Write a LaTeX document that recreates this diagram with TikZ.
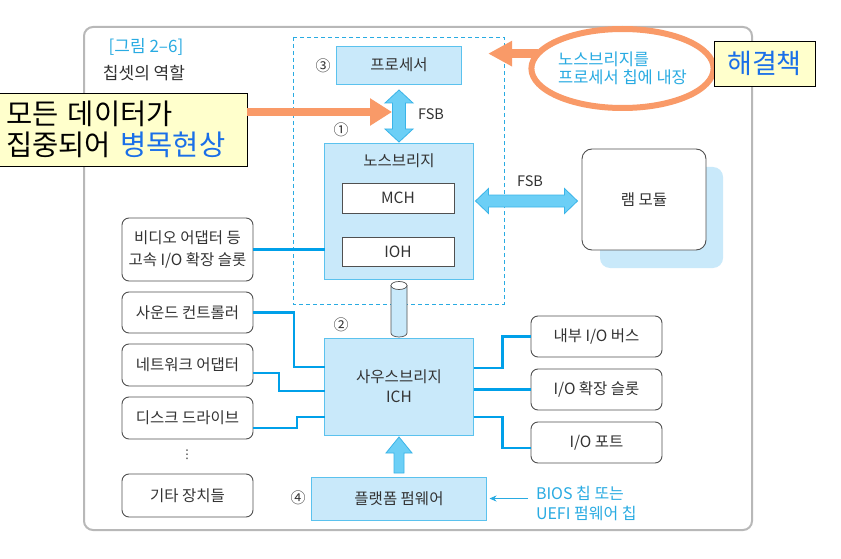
\documentclass[tikz,border=0pt]{standalone}
\usepackage{fontspec}
\setmainfont{Noto Sans CJK KR}
\newfontfamily\dotsfont{DejaVu Sans}
\definecolor{chipfill}{HTML}{C9E9FA}
\definecolor{chipline}{HTML}{5BC2EE}
\definecolor{linkblue}{HTML}{00A0E9}
\definecolor{arrowfill}{HTML}{6CCFF6}
\definecolor{arrowline}{HTML}{3AB4E8}
\definecolor{hot}{HTML}{F99A68}
\definecolor{memo}{HTML}{FFFFCC}
\definecolor{accent}{HTML}{1A6FE8}
\definecolor{caption}{HTML}{29ABE2}
\definecolor{frame}{HTML}{B8B8B8}
\definecolor{darkgrey}{HTML}{505050}
\definecolor{ink}{HTML}{333333}
\usepackage{tikz}
\usetikzlibrary{arrows.meta}
\usetikzlibrary{calc}
\usetikzlibrary{shapes.geometric}
\tikzstyle{base}=[x=1pt, y=-1pt, inner sep=0pt, outer sep=0pt, text=ink, font=\fontsize{15.5}{20}\selectfont]
\tikzstyle{chip}=[draw=chipline, fill=chipfill, line width=0.9pt]
\tikzstyle{part}=[draw=darkgrey, fill=white, line width=0.7pt, minimum width=112pt]
\tikzstyle{device}=[draw=darkgrey, fill=white, line width=0.9pt, rounded corners=7pt, minimum width=131pt, align=center]
\tikzstyle{link}=[draw=linkblue, line width=2.5pt]
\tikzstyle{fat}=[draw=arrowline, fill=arrowfill, line width=0.8pt]
\tikzstyle{memobox}=[draw=black, fill=memo, line width=0.8pt]
\tikzstyle{hotarrow}=[draw=hot, line width=8pt, -{Triangle[length=22pt,width=26pt]}]
\tikzstyle{note}=[draw=caption, line width=0.8pt, -{Stealth[length=7pt,width=6pt]}]
\tikzstyle{num}=[font=\fontsize{15}{16}\selectfont]

\begin{document}
\begin{tikzpicture}[base]
    \useasboundingbox (0,0) rectangle (841,559);
    \fill [white] (0,0) rectangle (841,559);
    % frame and caption
    \draw [frame, line width=2pt, rounded corners=9pt] (84,27) rectangle (752,530);
    \node [text=caption, font=\fontsize{17}{18}\selectfont] (fignum) at (146,47) {[그림 2–6]};
    \node [font=\fontsize{17}{18}\selectfont] (figtitle) at (144,73) {칩셋의 역할};
    % processor area
    \draw [caption, line width=0.8pt, dash pattern=on 4pt off 3pt] (293,37) rectangle (504,304);
    \node [chip, minimum width=125pt, minimum height=38pt] (proc) at (399,65) {프로세서};
    \node [chip, minimum width=149pt, minimum height=136pt] (nb) at (399,211) {};
    \node (nbname) at (399,161) {노스브리지};
    \node [part, minimum height=30pt] (mch) at (398,198) {MCH};
    \node [part, minimum height=29pt] (ioh) at (398,251.5) {IOH};
    \node [chip, minimum width=149pt, minimum height=97pt, align=center, font=\fontsize{15.5}{20}\selectfont] (sb) at (399,386.5) {사우스브리지\\ICH};
    \node [chip, minimum width=175pt, minimum height=43pt] (fw) at (399,498.5) {플랫폼 펌웨어};
    \node [num] (n3) at (323,66) {③};
    \node [num] (n1) at (341,130) {①};
    \node [num] (n2) at (341,325) {②};
    \node [num] (n4) at (298,498) {④};
    % memory
    \fill [chipfill, rounded corners=10pt] (600,167) rectangle (723,268);
    \node [device, minimum width=124pt, minimum height=101pt, rounded corners=10pt] (ram) at (644,199.5) {램 모듈};
    % devices
    \node [device, minimum height=63pt, font=\fontsize{15.5}{22}\selectfont] (video) at (187.5,249.5) {비디오 어댑터 등\\고속 I/O 확장 슬롯};
    \node [device, minimum height=41pt] (sound) at (187.5,312.5) {사운드 컨트롤러};
    \node [device, minimum height=42pt] (net) at (187.5,365) {네트워크 어댑터};
    \node [device, minimum height=42pt] (disk) at (187.5,418) {디스크 드라이브};
    \node [font={\dotsfont\fontsize{12}{12}\selectfont}] (more) at (187,455) {⋮};
    \node [device, minimum height=43pt] (etc) at (187.5,495.5) {기타 장치들};
    \node [device, minimum height=41pt] (ibus) at (596.5,336.5) {내부 I/O 버스};
    \node [device, minimum height=41pt] (slot) at (596.5,389.5) {I/O 확장 슬롯};
    \node [device, minimum height=41pt] (port) at (596.5,442.5) {I/O 포트};
    % buses
    \draw [link] (video.east) -- (video.east -| nb.west);
    \draw [link] (sound.east) -- ++(41,0) |- ([yshift=19.5pt]sb.west);
    \draw [link] ([yshift=-8pt]net.east) -- ++(26,0) |- ([yshift=-4.5pt]sb.west);
    \draw [link] ([yshift=-10pt]disk.east) -- ++(44,0) |- ([yshift=-30.5pt]sb.west);
    \draw [link] ([yshift=18.5pt]sb.east) -- ++(29,0) |- (ibus.west);
    \draw [link] (slot.west -| sb.east) -- (slot.west);
    \draw [link] ([yshift=-30.5pt]sb.east) -- ++(29,0) |- ([yshift=-5.5pt]port.west);
    % FSB arrows
    \draw [fat] ($(proc.south)+(0,6)$) -- ++(14,13) -- ++(-7.5,0) -- ++(0,26) -- ++(7.5,0) -- ++(-14,13) -- ++(-14,-13) -- ++(7.5,0) -- ++(0,-26) -- ++(-7.5,0) -- cycle;
    \node [font=\fontsize{14.5}{16}\selectfont] (fsb1) at (431,114) {FSB};
    \draw [fat] ($(nb.east)+(2,-10)$) -- ++(13,-12.5) -- ++(0,6.5) -- ++(76,0) -- ++(0,-6.5) -- ++(13,12.5) -- ++(-13,12.5) -- ++(0,-6.5) -- ++(-76,0) -- ++(0,6.5) -- cycle;
    \node [font=\fontsize{14.5}{16}\selectfont] (fsb2) at (530,181) {FSB};
    % internal link
    \draw [darkgrey, fill=chipfill, line width=0.7pt] ($(nb.south)+(-8,6.5)$) -- ($(sb.north)+(-8,-5)$) arc [start angle=180, end angle=360, x radius=8pt, y radius=4pt] -- ($(nb.south)+(8,6.5)$) -- cycle;
    \draw [darkgrey, fill=white, line width=0.7pt] ($(nb.south)+(0,6.5)$) ellipse [x radius=8pt, y radius=4pt];
    % firmware
    \draw [fat] ($(fw.north)+(-5,-4)$) -- ++(0,-20) -- ++(-8,0) -- ++(13,-16) -- ++(13,16) -- ++(-8,0) -- ++(0,20) -- cycle;
    \node [anchor=west, align=left, text=caption, font=\fontsize{16}{20}\selectfont] (bios) at (536,503) {BIOS 칩 또는\\UEFI 펌웨어 칩};
    \draw [note] ($(fw.east -| bios.west)+(-8,0)$) -- ($(fw.east)+(3,0)$);
    % problem and solution
    \node [memobox, minimum width=250pt, minimum height=73pt, text width=232pt, align=left, text=black, font=\fontsize{28.5}{31}\selectfont] (jam) at (122,129.5) {모든 데이터가\\집중되어 \textcolor{accent}{병목현상}};
    \draw [hotarrow] ([yshift=17.5pt]jam.east) -- ++(145,0);
    \node [ellipse, draw=hot, line width=6pt, minimum width=159pt, minimum height=79pt, align=left, text=caption, font=\fontsize{16.5}{18}\selectfont] (sol) at (622.5,68.5) {노스브리지를\\프로세서 칩에 내장};
    \draw [draw=hot, line width=9pt, -{Triangle[length=24pt,width=24pt]}] (sol.170) -- ++(-50,0);
    \node [memobox, minimum width=101pt, minimum height=45pt, text=accent, font=\fontsize{27}{30}\selectfont] (fix) at (764.5,63.5) {해결책};
\end{tikzpicture}
\end{document}
